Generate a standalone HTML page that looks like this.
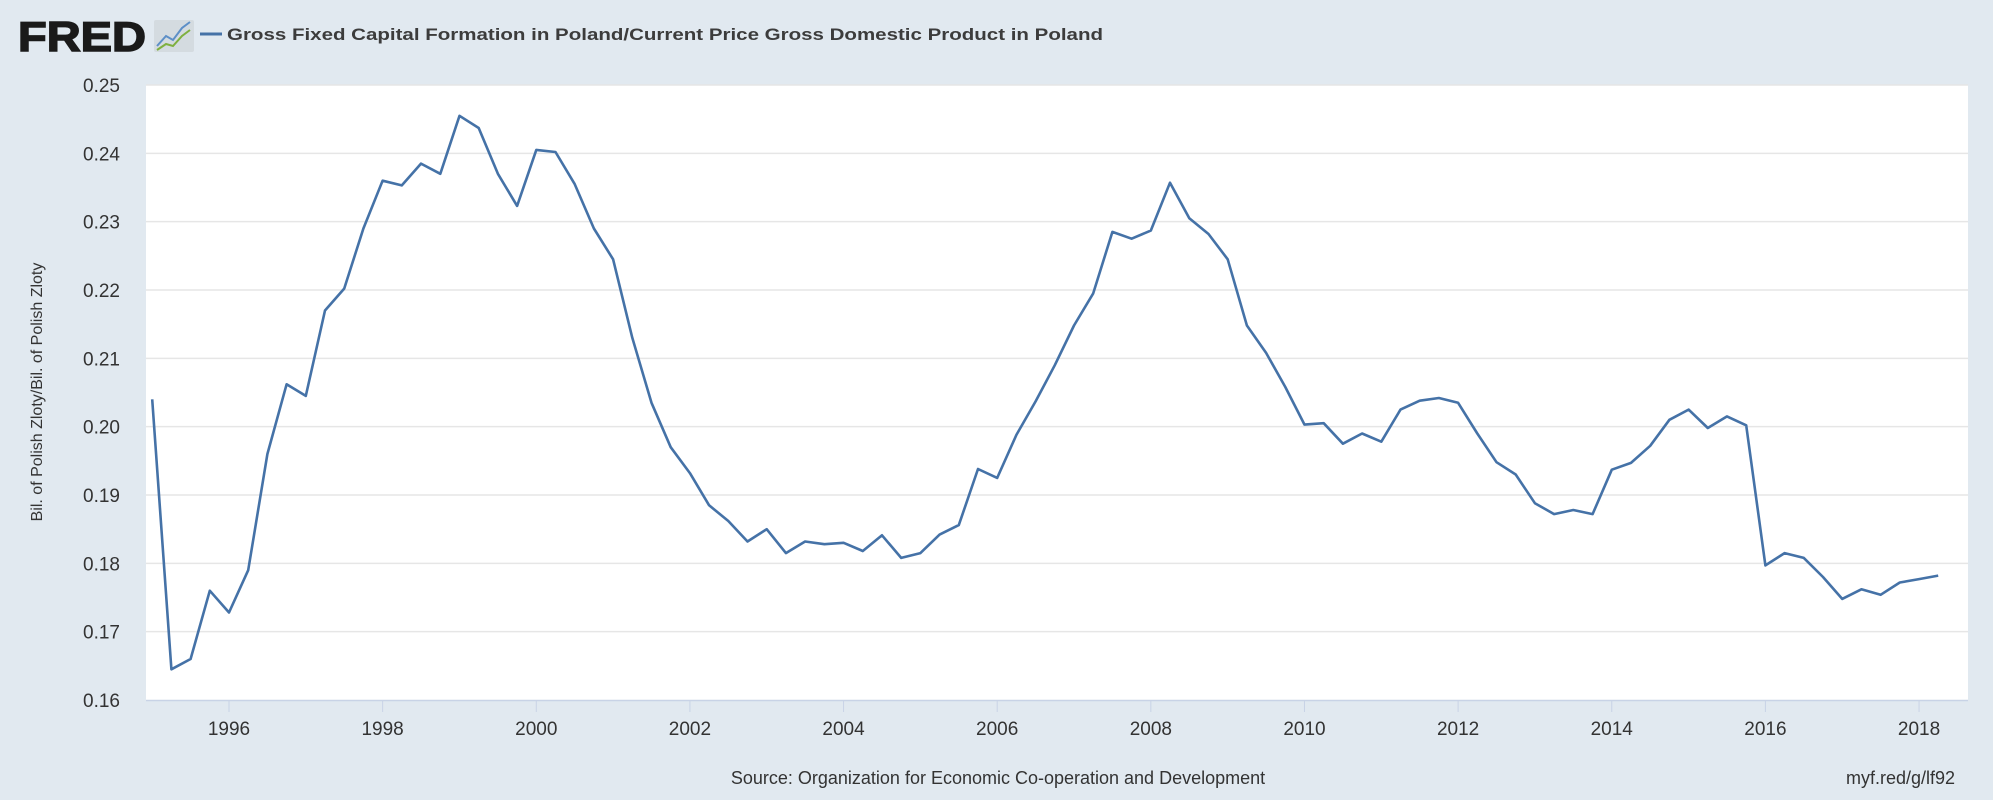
<!DOCTYPE html>
<html><head><meta charset="utf-8"><style>
html,body{margin:0;padding:0;background:#e1e9f0;}
svg{display:block;font-family:"Liberation Sans",sans-serif;}
</style></head><body>
<svg id="chart" width="1993" height="800" viewBox="0 0 1993 800">
<rect x="0" y="0" width="1993" height="800" fill="#e1e9f0"/>
<g>
<text x="18" y="51" font-size="42" font-weight="bold" fill="#1a1a1a" stroke="#1a1a1a" stroke-width="1.5" textLength="128" lengthAdjust="spacingAndGlyphs">FRED</text>
<rect x="154" y="20" width="40" height="32" rx="2" fill="#d4dbe0"/>
<polyline points="157,46 166,36 173,40 182,28 190,22" fill="none" stroke="#5d8fc7" stroke-width="2"/>
<polyline points="157,50 166,44 173,46 182,36 190,30" fill="none" stroke="#7fb03f" stroke-width="2"/>
</g>
<line x1="200" y1="34" x2="222" y2="34" stroke="#4572a7" stroke-width="3"/>
<text x="227" y="40" font-size="17" font-weight="bold" fill="#3c3c3c" textLength="876" lengthAdjust="spacingAndGlyphs">Gross Fixed Capital Formation in Poland/Current Price Gross Domestic Product in Poland</text>
<rect x="146" y="85" width="1822" height="615" fill="#ffffff"/>
<g id="grid"></g>
<g id="yticks"></g>
<g id="xticks"></g>
<text x="0" y="0" transform="translate(42,392) rotate(-90)" text-anchor="middle" font-size="16" fill="#333">Bil. of Polish Zloty/Bil. of Polish Zloty</text>
<path id="series" fill="none" stroke="#4572a7" stroke-width="2.6" stroke-linejoin="round"/>
<text x="998" y="784" text-anchor="middle" font-size="18" fill="#333">Source: Organization for Economic Co-operation and Development</text>
<text x="1955" y="784" text-anchor="end" font-size="18" fill="#333">myf.red/g/lf92</text>
</svg>
<script>
const startYear = 1995;
const values = [
0.204,0.1645,0.166,0.176,
0.1728,0.179,0.196,0.2062,
0.2045,0.217,0.2202,0.229,
0.236,0.2353,0.2385,0.237,
0.2455,0.2437,0.237,0.2323,
0.2405,0.2402,0.2355,0.229,
0.2245,0.213,0.2035,0.197,
0.1932,0.1885,0.1862,0.1832,
0.185,0.1815,0.1832,0.1828,
0.183,0.1818,0.1841,0.1808,
0.1815,0.1842,0.1856,0.1938,
0.1925,0.1988,0.2037,0.209,
0.2148,0.2195,0.2285,0.2275,
0.2287,0.2357,0.2305,0.2282,
0.2245,0.2148,0.2108,0.2058,
0.2003,0.2005,0.1975,0.199,
0.1978,0.2025,0.2038,0.2042,
0.2035,0.199,0.1948,0.193,
0.1888,0.1872,0.1878,0.1872,
0.1937,0.1947,0.1972,0.2010,
0.2025,0.1998,0.2015,0.2002,
0.1797,0.1815,0.1808,0.178,
0.1748,0.1762,0.1754,0.1772,
0.1777,0.1782];
const yTicks = [0.16,0.17,0.18,0.19,0.20,0.21,0.22,0.23,0.24,0.25];
const yTickLabels = ["0.16","0.17","0.18","0.19","0.20","0.21","0.22","0.23","0.24","0.25"];
const xTicks = [1996,1998,2000,2002,2004,2006,2008,2010,2012,2014,2016,2018];

const NS="http://www.w3.org/2000/svg";
function xScale(t){return 229+(t-1996)*76.82;}
function yScale(v){return 700-(v-0.16)/0.09*615;}
const grid=document.getElementById('grid'), yt=document.getElementById('yticks'), xt=document.getElementById('xticks');
yTicks.forEach((v,i)=>{
  const y=yScale(v);
  if(i>0){const l=document.createElementNS(NS,'line');
  l.setAttribute('x1',146);l.setAttribute('x2',1968);l.setAttribute('y1',y);l.setAttribute('y2',y);
  l.setAttribute('stroke','#e6e6e6');l.setAttribute('stroke-width','1.5');
  
  
  grid.appendChild(l);}
  const t=document.createElementNS(NS,'text');
  t.setAttribute('x',120);t.setAttribute('y',y+7);t.setAttribute('text-anchor','end');
  t.setAttribute('font-size','19');t.setAttribute('fill','#333');t.textContent=yTickLabels[i];
  
  
  yt.appendChild(t);
});
const ax=document.createElementNS(NS,'line');
ax.setAttribute('x1',146);ax.setAttribute('x2',1968);ax.setAttribute('y1',700.5);ax.setAttribute('y2',700.5);
ax.setAttribute('stroke','#c8d3e6');ax.setAttribute('stroke-width','1.5');


xt.appendChild(ax);
xTicks.forEach(yr=>{
  const x=xScale(yr);
  const l=document.createElementNS(NS,'line');
  l.setAttribute('x1',x);l.setAttribute('x2',x);l.setAttribute('y1',700);l.setAttribute('y2',712);
  l.setAttribute('stroke','#c8d3e6');l.setAttribute('stroke-width','1');
  
  
  xt.appendChild(l);
  const t=document.createElementNS(NS,'text');
  t.setAttribute('x',x);t.setAttribute('y',735);t.setAttribute('text-anchor','middle');
  t.setAttribute('font-size','19');t.setAttribute('fill','#333');t.textContent=String(yr);
  
  
  xt.appendChild(t);
});
let d='';
values.forEach((v,i)=>{
  const x=xScale(startYear+i/4), y=yScale(v);
  d+=(i?'L':'M')+x.toFixed(1)+','+y.toFixed(1);
});
document.getElementById('series').setAttribute('d',d);
</script>
</body></html>
